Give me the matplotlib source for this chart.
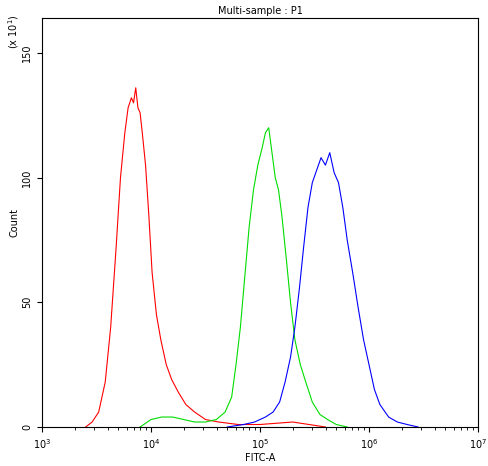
import numpy as np
import matplotlib.pyplot as plt

# log10(FITC-A) positions and counts (x10^1)
red_x = [3.40, 3.46, 3.52, 3.58, 3.63, 3.68, 3.72, 3.76, 3.79, 3.82, 3.84, 3.86, 3.88, 3.90, 3.92, 3.95, 3.98, 4.01, 4.05, 4.09, 4.14, 4.19, 4.25, 4.32, 4.40, 4.50, 4.62, 4.80, 5.0, 5.3, 5.6]
red_y = [0, 2, 6, 18, 40, 72, 100, 118, 128, 132, 130, 136, 128, 126, 118, 105, 85, 62, 45, 35, 25, 19, 14, 9, 6, 3, 2, 1, 1, 2, 0]

green_x = [3.90, 4.00, 4.10, 4.20, 4.30, 4.40, 4.50, 4.60, 4.68, 4.74, 4.78, 4.82, 4.86, 4.90, 4.94, 4.98, 5.02, 5.05, 5.08, 5.11, 5.14, 5.17, 5.20, 5.24, 5.28, 5.32, 5.37, 5.42, 5.48, 5.55, 5.62, 5.70, 5.80]
green_y = [0, 3, 4, 4, 3, 2, 2, 3, 6, 12, 25, 40, 60, 80, 95, 105, 112, 118, 120, 110, 100, 95, 85, 68, 50, 35, 25, 18, 10, 5, 3, 1, 0]

blue_x = [4.70, 4.85, 4.95, 5.05, 5.12, 5.18, 5.23, 5.28, 5.32, 5.36, 5.40, 5.44, 5.48, 5.52, 5.56, 5.60, 5.64, 5.68, 5.72, 5.76, 5.80, 5.85, 5.90, 5.95, 6.00, 6.05, 6.10, 6.18, 6.26, 6.35, 6.45]
blue_y = [0, 1, 2, 4, 6, 10, 18, 28, 40, 55, 72, 88, 98, 103, 108, 105, 110, 102, 98, 88, 75, 62, 48, 35, 25, 15, 9, 4, 2, 1, 0]

fig = plt.figure(figsize=(4.88, 4.66), dpi=100)
ax = fig.add_axes([42 / 488, 1 - 427 / 466, 436 / 488, 409 / 466])

ax.plot(10 ** np.array(red_x), red_y, color='red', lw=0.8)
ax.plot(10 ** np.array(green_x), green_y, color='#00dd00', lw=0.8)
ax.plot(10 ** np.array(blue_x), blue_y, color='blue', lw=0.8)

ax.set_xscale('log')
ax.set_xlim(1e3, 1e7)
ax.set_ylim(0, 164)
ax.set_yticks([0, 50, 100, 150])
ax.tick_params(labelsize=7)
plt.setp(ax.get_yticklabels(), rotation=90, va='center')
ax.set_title('Multi-sample : P1', fontsize=7, pad=3)
ax.set_xlabel('FITC-A', fontsize=7, labelpad=2)
ax.set_ylabel('Count', fontsize=7, labelpad=2)
fig.text(0.012, 0.97, r'(x 10$^1$)', rotation=90, fontsize=7, va='top')

fig.savefig('out.png', dpi=100)
